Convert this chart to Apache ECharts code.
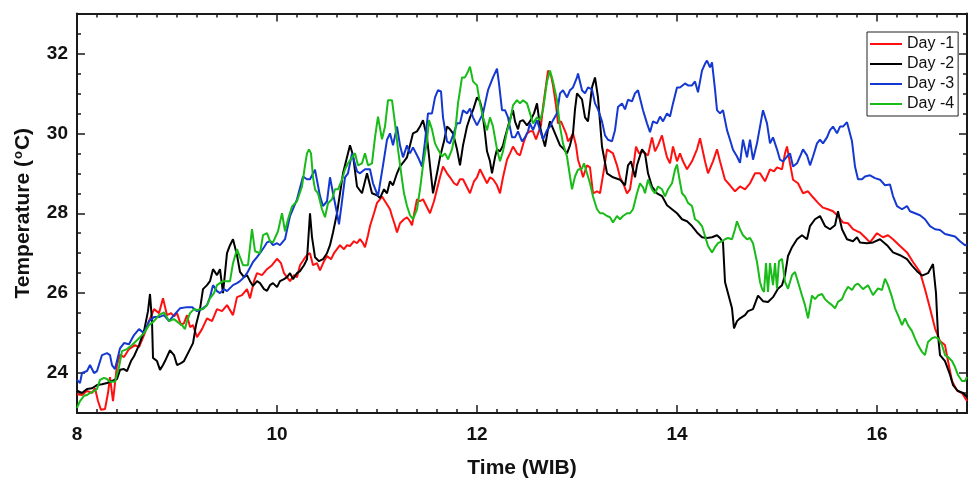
<!DOCTYPE html>
<html>
<head>
<meta charset="utf-8">
<script src="https://cdn.jsdelivr.net/npm/echarts@6/dist/echarts.min.js"></script>
<style>
  html, body { margin: 0; padding: 0; background: #fff; }
  #chart { width: 968px; height: 484px; }
</style>
</head>
<body>
<div id="chart"></div>
<script>
// Air temperature over the day, four days before the event (time in WIB, temperature in °C)
const seriesNames = ['Day -1', 'Day -2', 'Day -3', 'Day -4'];
const seriesColors = ['#ff1010', '#000000', '#1438d0', '#18bb18'];

const xMajorTicks = [8, 10, 12, 14, 16];
const yMajorTicks = [24, 26, 28, 30, 32];

const day1 = [
  [8.00,23.47],[8.05,23.45],[8.10,23.55],[8.15,23.5],[8.18,23.62],[8.21,23.3],[8.24,23.08],[8.28,23.1],[8.31,23.5],[8.33,23.9],[8.36,23.3],[8.40,24.2],[8.43,24.46],[8.47,24.4],[8.52,24.6],[8.58,24.7],[8.62,24.65],[8.67,24.95],[8.72,25.3],[8.77,25.6],[8.82,25.5],[8.86,25.87],[8.90,25.45],[8.94,25.5],[8.97,25.42],[9.00,25.5],[9.04,25.2],[9.07,25.25],[9.10,25.45],[9.13,25.15],[9.16,25.2],[9.20,24.9],[9.25,25.1],[9.30,25.37],[9.35,25.3],[9.40,25.6],[9.45,25.55],[9.50,25.7],[9.56,25.45],[9.60,25.9],[9.65,25.95],[9.70,26.1],[9.73,25.87],[9.77,26.3],[9.80,26.5],[9.85,26.45],[9.90,26.6],[9.95,26.7],[10.00,26.86],[10.04,26.75],[10.07,26.5],[10.10,26.4],[10.13,26.3],[10.17,26.45],[10.20,26.4],[10.23,26.7],[10.27,26.85],[10.30,26.95],[10.33,27.0],[10.36,26.7],[10.40,26.75],[10.43,26.57],[10.47,26.8],[10.50,26.93],[10.54,26.85],[10.57,27.0],[10.60,27.1],[10.63,27.2],[10.67,27.1],[10.70,27.2],[10.73,27.18],[10.77,27.3],[10.80,27.25],[10.83,27.35],[10.86,27.25],[10.88,27.15],[10.91,27.45],[10.93,27.68],[10.97,28.0],[11.00,28.26],[11.03,28.35],[11.05,28.42],[11.08,28.3],[11.10,28.26],[11.13,28.1],[11.15,27.93],[11.18,27.7],[11.20,27.52],[11.23,27.75],[11.27,27.85],[11.30,27.9],[11.33,27.8],[11.35,27.7],[11.38,28.1],[11.40,28.35],[11.43,28.3],[11.46,28.35],[11.50,28.15],[11.53,28.0],[11.57,28.3],[11.60,28.6],[11.63,28.9],[11.66,29.17],[11.70,29.0],[11.73,28.9],[11.77,28.75],[11.80,28.7],[11.83,28.85],[11.86,28.85],[11.90,28.65],[11.93,28.5],[11.97,28.8],[12.00,28.9],[12.03,29.1],[12.06,28.95],[12.10,28.75],[12.13,28.9],[12.16,28.85],[12.20,28.7],[12.23,28.5],[12.26,28.9],[12.30,29.34],[12.33,29.5],[12.36,29.67],[12.40,29.5],[12.43,29.45],[12.47,29.8],[12.50,30.0],[12.53,30.05],[12.56,30.05],[12.59,29.85],[12.61,29.8],[12.64,30.2],[12.66,30.66],[12.69,31.2],[12.71,31.57],[12.74,31.45],[12.76,31.2],[12.79,30.7],[12.81,30.25],[12.84,30.3],[12.86,30.3],[12.89,30.0],[12.91,29.8],[12.94,29.9],[12.96,30.0],[12.99,29.7],[13.01,29.34],[13.04,29.1],[13.06,28.9],[13.10,29.2],[13.13,29.15],[13.16,28.5],[13.20,28.55],[13.23,28.5],[13.27,29.1],[13.30,29.6],[13.33,29.55],[13.36,29.5],[13.40,29.2],[13.43,28.9],[13.47,28.7],[13.50,28.5],[13.53,28.6],[13.56,29.1],[13.59,29.67],[13.62,29.5],[13.65,29.55],[13.68,29.5],[13.71,29.45],[13.75,29.9],[13.78,29.55],[13.81,29.7],[13.85,29.95],[13.88,29.6],[13.90,29.4],[13.93,29.25],[13.96,29.67],[14.00,29.3],[14.03,29.5],[14.06,29.3],[14.10,29.1],[14.15,29.3],[14.20,29.6],[14.23,29.88],[14.28,29.3],[14.31,29.0],[14.36,29.3],[14.40,29.6],[14.43,29.3],[14.48,28.84],[14.53,28.7],[14.58,28.55],[14.63,28.67],[14.68,28.6],[14.73,28.75],[14.78,29.0],[14.83,29.0],[14.88,28.8],[14.93,29.1],[14.97,29.05],[15.00,29.15],[15.05,29.1],[15.08,29.5],[15.10,29.67],[15.13,29.25],[15.16,28.84],[15.21,28.75],[15.26,28.5],[15.31,28.55],[15.36,28.4],[15.41,28.26],[15.46,28.14],[15.51,28.1],[15.56,28.05],[15.61,27.93],[15.66,27.77],[15.71,27.75],[15.76,27.6],[15.80,27.55],[15.83,27.52],[15.88,27.4],[15.93,27.27],[16.00,27.5],[16.06,27.4],[16.11,27.45],[16.16,27.35],[16.23,27.18],[16.30,27.02],[16.36,26.78],[16.43,26.53],[16.48,26.1],[16.53,25.62],[16.58,25.12],[16.63,24.8],[16.68,24.7],[16.71,24.3],[16.75,23.8],[16.80,23.56],[16.85,23.5],[16.90,23.3]
];

const day2 = [
  [8.00,23.56],[8.05,23.5],[8.10,23.6],[8.15,23.62],[8.20,23.7],[8.25,23.72],[8.30,23.75],[8.35,23.8],[8.40,23.85],[8.43,24.08],[8.47,24.1],[8.50,24.05],[8.54,24.3],[8.57,24.42],[8.62,24.7],[8.67,25.05],[8.71,25.55],[8.73,25.98],[8.75,25.3],[8.76,24.38],[8.80,24.3],[8.83,24.08],[8.86,24.2],[8.88,24.3],[8.93,24.57],[8.97,24.45],[9.00,24.2],[9.04,24.25],[9.07,24.3],[9.12,24.55],[9.16,24.75],[9.19,25.2],[9.23,25.6],[9.26,26.1],[9.30,26.2],[9.33,26.3],[9.36,26.6],[9.40,26.45],[9.43,26.6],[9.46,26.0],[9.50,27.0],[9.53,27.2],[9.56,27.35],[9.60,26.95],[9.63,26.53],[9.67,26.4],[9.70,26.45],[9.73,26.3],[9.76,26.18],[9.80,26.3],[9.83,26.25],[9.87,26.1],[9.90,26.06],[9.93,26.2],[9.96,26.25],[10.00,26.15],[10.03,26.3],[10.07,26.35],[10.10,26.4],[10.13,26.5],[10.16,26.35],[10.20,26.5],[10.23,26.55],[10.27,26.7],[10.30,26.85],[10.33,28.0],[10.35,27.4],[10.38,26.9],[10.42,26.8],[10.46,26.85],[10.50,27.0],[10.53,27.2],[10.56,27.52],[10.60,28.0],[10.63,28.5],[10.66,29.0],[10.70,29.4],[10.73,29.7],[10.76,29.45],[10.80,28.67],[10.85,28.5],[10.90,29.0],[10.95,28.5],[11.00,28.45],[11.03,28.38],[11.07,28.6],[11.10,28.5],[11.13,28.8],[11.16,28.7],[11.20,29.0],[11.23,29.17],[11.27,29.3],[11.30,29.4],[11.33,29.7],[11.36,30.0],[11.40,30.05],[11.43,30.17],[11.46,30.33],[11.50,29.9],[11.53,29.2],[11.56,28.5],[11.60,29.0],[11.63,29.4],[11.67,29.8],[11.70,30.17],[11.73,30.1],[11.76,30.0],[11.80,29.6],[11.83,29.2],[11.86,29.7],[11.90,30.17],[11.93,30.4],[11.96,30.58],[12.00,30.9],[12.03,30.8],[12.05,30.6],[12.08,30.0],[12.10,29.55],[12.13,29.3],[12.15,29.0],[12.18,29.4],[12.20,29.6],[12.23,29.55],[12.26,29.7],[12.28,29.9],[12.31,30.17],[12.33,30.35],[12.36,30.58],[12.38,30.3],[12.41,30.1],[12.43,30.3],[12.46,30.33],[12.50,30.2],[12.53,30.3],[12.57,30.5],[12.60,30.75],[12.63,30.17],[12.66,29.85],[12.68,29.67],[12.71,30.1],[12.73,30.3],[12.78,30.0],[12.83,29.7],[12.87,29.6],[12.90,29.5],[12.93,29.7],[12.96,30.0],[12.98,30.6],[13.00,31.0],[13.05,30.85],[13.08,30.4],[13.11,30.3],[13.15,31.15],[13.18,31.4],[13.21,30.9],[13.25,29.67],[13.30,29.0],[13.36,28.9],[13.43,28.84],[13.48,28.7],[13.51,29.2],[13.54,29.3],[13.56,29.1],[13.58,28.9],[13.60,29.2],[13.65,29.6],[13.68,29.5],[13.71,29.0],[13.75,28.67],[13.80,28.5],[13.85,28.43],[13.90,28.2],[13.95,28.1],[14.00,28.0],[14.05,27.85],[14.10,27.8],[14.15,27.68],[14.20,27.52],[14.25,27.4],[14.30,27.38],[14.35,27.4],[14.40,27.45],[14.43,27.38],[14.46,27.27],[14.48,26.28],[14.51,26.0],[14.55,25.62],[14.57,25.12],[14.60,25.3],[14.63,25.37],[14.68,25.45],[14.71,25.55],[14.76,25.6],[14.81,25.94],[14.86,25.8],[14.91,25.78],[14.96,25.9],[15.01,26.11],[15.05,26.2],[15.08,26.45],[15.11,26.93],[15.15,27.15],[15.20,27.35],[15.25,27.45],[15.30,27.35],[15.33,27.68],[15.38,27.85],[15.43,27.93],[15.48,27.68],[15.53,27.6],[15.58,27.7],[15.61,28.05],[15.65,27.6],[15.70,27.35],[15.76,27.3],[15.80,27.4],[15.83,27.27],[15.90,27.25],[15.96,27.27],[16.03,27.35],[16.10,27.2],[16.16,27.02],[16.23,26.95],[16.30,26.85],[16.35,26.69],[16.40,26.55],[16.45,26.44],[16.51,26.5],[16.56,26.73],[16.59,26.0],[16.61,24.95],[16.63,24.45],[16.68,24.3],[16.73,23.96],[16.76,23.7],[16.81,23.55],[16.86,23.5],[16.90,23.4]
];

const day3 = [
  [8.00,23.83],[8.03,23.75],[8.05,24.0],[8.10,24.05],[8.13,24.2],[8.17,24.0],[8.20,24.05],[8.25,24.45],[8.30,24.5],[8.33,24.45],[8.35,24.2],[8.38,24.1],[8.43,24.62],[8.47,24.75],[8.52,24.72],[8.57,24.95],[8.62,25.1],[8.67,25.0],[8.72,25.3],[8.77,25.4],[8.82,25.4],[8.87,25.45],[8.92,25.3],[8.97,25.45],[9.03,25.62],[9.10,25.65],[9.15,25.65],[9.20,25.55],[9.25,25.6],[9.30,25.7],[9.33,25.9],[9.36,26.2],[9.40,26.05],[9.43,26.0],[9.47,26.1],[9.50,26.05],[9.56,26.2],[9.60,26.25],[9.63,26.3],[9.67,26.4],[9.70,26.5],[9.76,26.78],[9.80,26.9],[9.83,27.0],[9.87,27.15],[9.90,27.27],[9.93,27.3],[9.96,27.2],[10.00,27.25],[10.03,27.2],[10.08,27.35],[10.13,27.93],[10.20,28.35],[10.26,28.92],[10.30,28.85],[10.33,28.85],[10.38,29.09],[10.43,28.43],[10.46,28.18],[10.50,28.3],[10.53,28.9],[10.56,28.5],[10.60,28.0],[10.62,27.72],[10.65,28.3],[10.68,28.9],[10.71,29.0],[10.75,29.5],[10.80,29.05],[10.83,29.0],[10.88,29.1],[10.93,29.1],[10.96,28.75],[11.01,28.43],[11.06,29.2],[11.10,29.84],[11.13,30.0],[11.16,29.7],[11.20,30.17],[11.23,29.7],[11.26,29.4],[11.30,29.7],[11.33,29.5],[11.36,29.65],[11.40,29.45],[11.42,29.35],[11.45,29.17],[11.48,29.8],[11.51,30.5],[11.55,30.5],[11.58,30.9],[11.61,31.08],[11.64,31.05],[11.66,30.4],[11.70,29.8],[11.73,29.75],[11.76,29.95],[11.80,30.25],[11.83,30.25],[11.86,30.58],[11.90,30.5],[11.93,30.62],[11.96,30.4],[12.00,30.2],[12.03,30.35],[12.06,30.5],[12.11,31.08],[12.16,31.4],[12.20,31.62],[12.22,31.25],[12.25,30.58],[12.28,30.58],[12.31,30.4],[12.35,29.9],[12.38,29.9],[12.41,30.05],[12.45,29.8],[12.48,29.9],[12.51,30.05],[12.53,30.25],[12.56,30.08],[12.60,30.33],[12.63,30.08],[12.66,29.85],[12.70,30.08],[12.73,30.17],[12.76,30.33],[12.80,30.5],[12.83,31.0],[12.86,31.08],[12.90,30.9],[12.93,31.08],[12.96,31.15],[13.00,31.4],[13.01,31.5],[13.05,31.08],[13.08,31.0],[13.11,31.15],[13.15,31.1],[13.18,30.75],[13.21,30.6],[13.25,30.3],[13.28,29.95],[13.31,29.84],[13.35,29.8],[13.38,30.08],[13.41,30.66],[13.45,30.75],[13.48,30.6],[13.51,30.84],[13.55,30.8],[13.58,31.0],[13.61,31.08],[13.63,31.08],[13.66,30.58],[13.70,30.25],[13.73,30.03],[13.76,30.3],[13.80,30.25],[13.83,30.42],[13.86,30.3],[13.90,30.5],[13.93,30.42],[13.96,30.75],[14.00,31.15],[14.03,31.15],[14.08,31.25],[14.11,31.2],[14.15,31.2],[14.18,31.3],[14.21,31.03],[14.25,31.57],[14.28,31.74],[14.30,31.82],[14.33,31.65],[14.35,31.78],[14.38,31.1],[14.40,30.58],[14.43,30.5],[14.46,30.58],[14.50,30.08],[14.53,29.84],[14.56,29.59],[14.60,29.42],[14.63,29.26],[14.66,29.84],[14.70,29.4],[14.73,29.84],[14.76,29.34],[14.80,29.75],[14.83,30.17],[14.86,30.58],[14.90,30.25],[14.93,29.75],[14.96,29.9],[15.00,29.6],[15.03,29.34],[15.06,29.3],[15.10,29.42],[15.13,29.5],[15.16,29.17],[15.20,29.25],[15.23,29.42],[15.26,29.6],[15.30,29.45],[15.33,29.2],[15.36,29.42],[15.40,29.75],[15.43,29.84],[15.46,29.75],[15.50,29.9],[15.53,30.08],[15.56,30.17],[15.60,30.0],[15.63,30.17],[15.66,30.17],[15.70,30.28],[15.72,30.3],[15.75,29.8],[15.78,29.17],[15.81,28.85],[15.85,28.85],[15.88,28.92],[15.93,28.95],[15.98,28.88],[16.03,28.84],[16.08,28.7],[16.13,28.72],[16.16,28.43],[16.20,28.18],[16.25,28.1],[16.30,28.18],[16.33,28.05],[16.38,28.0],[16.43,27.95],[16.48,27.85],[16.53,27.68],[16.58,27.6],[16.63,27.58],[16.68,27.48],[16.73,27.45],[16.78,27.42],[16.83,27.3],[16.88,27.2],[16.90,27.22]
];

const day4 = [
  [8.00,23.13],[8.03,23.3],[8.07,23.43],[8.10,23.45],[8.13,23.5],[8.17,23.55],[8.20,23.6],[8.23,23.83],[8.27,23.88],[8.30,23.85],[8.33,23.78],[8.38,23.78],[8.42,24.15],[8.45,24.55],[8.50,24.6],[8.55,24.7],[8.60,24.82],[8.63,24.9],[8.67,25.0],[8.72,25.2],[8.77,25.3],[8.82,25.45],[8.87,25.52],[8.92,25.3],[8.97,25.35],[9.02,25.25],[9.05,25.2],[9.08,25.1],[9.10,25.3],[9.13,25.5],[9.17,25.6],[9.20,25.58],[9.23,25.6],[9.26,25.6],[9.30,25.7],[9.33,25.87],[9.37,26.0],[9.40,26.2],[9.43,26.25],[9.46,26.3],[9.50,26.3],[9.53,26.3],[9.56,26.75],[9.60,27.1],[9.63,26.9],[9.66,26.7],[9.71,26.7],[9.75,27.6],[9.78,27.05],[9.83,27.0],[9.86,27.45],[9.90,27.5],[9.93,27.3],[9.96,27.27],[10.01,27.55],[10.05,28.0],[10.08,27.55],[10.11,27.85],[10.15,28.17],[10.20,28.3],[10.25,28.67],[10.28,29.2],[10.30,29.5],[10.32,29.6],[10.34,29.5],[10.36,28.9],[10.38,28.6],[10.41,28.5],[10.45,28.1],[10.48,27.9],[10.51,28.25],[10.55,28.35],[10.58,28.6],[10.61,28.6],[10.65,28.84],[10.68,29.1],[10.71,29.25],[10.75,29.4],[10.78,29.5],[10.81,29.2],[10.85,29.25],[10.88,29.5],[10.91,29.2],[10.95,29.25],[10.98,29.9],[11.01,30.42],[11.05,29.85],[11.08,30.17],[11.11,30.83],[11.15,30.83],[11.18,30.25],[11.21,29.6],[11.25,28.85],[11.27,28.5],[11.30,28.18],[11.33,27.95],[11.36,27.85],[11.40,28.1],[11.43,28.6],[11.46,29.2],[11.50,29.8],[11.52,30.33],[11.55,30.1],[11.58,29.75],[11.61,29.6],[11.65,29.42],[11.68,29.5],[11.71,29.35],[11.75,29.6],[11.78,30.0],[11.81,30.75],[11.85,31.4],[11.88,31.4],[11.91,31.55],[11.93,31.67],[11.96,31.3],[12.00,31.2],[12.03,30.75],[12.06,30.4],[12.10,30.08],[12.13,30.4],[12.16,30.17],[12.20,29.6],[12.23,29.3],[12.26,29.55],[12.30,30.05],[12.33,30.3],[12.36,30.7],[12.40,30.83],[12.43,30.75],[12.46,30.83],[12.50,30.75],[12.53,30.5],[12.56,30.25],[12.60,30.4],[12.63,30.33],[12.66,30.58],[12.70,31.3],[12.73,31.57],[12.76,31.3],[12.80,30.83],[12.83,30.17],[12.86,29.75],[12.90,29.42],[12.93,28.92],[12.95,28.6],[12.98,28.92],[13.01,29.09],[13.05,29.12],[13.07,29.25],[13.10,29.0],[13.13,28.75],[13.16,28.42],[13.20,28.1],[13.23,28.0],[13.26,28.0],[13.30,27.93],[13.33,27.9],[13.36,27.77],[13.40,27.93],[13.43,27.85],[13.46,27.93],[13.50,28.0],[13.53,28.0],[13.56,28.1],[13.60,28.5],[13.63,28.75],[13.66,28.65],[13.68,28.5],[13.71,28.84],[13.75,28.6],[13.78,28.5],[13.81,28.67],[13.85,28.6],[13.88,28.42],[13.91,28.6],[13.95,28.75],[13.98,29.09],[14.00,29.22],[14.02,28.92],[14.05,28.5],[14.08,28.42],[14.11,28.26],[14.15,28.18],[14.18,27.85],[14.21,27.8],[14.25,27.68],[14.28,27.43],[14.31,27.18],[14.35,27.02],[14.38,27.15],[14.41,27.25],[14.45,27.3],[14.48,27.35],[14.51,27.38],[14.55,27.35],[14.58,27.6],[14.60,27.8],[14.63,27.6],[14.66,27.45],[14.70,27.35],[14.73,27.38],[14.76,27.25],[14.80,26.78],[14.83,26.28],[14.85,26.11],[14.87,26.03],[14.89,26.75],[14.91,26.03],[14.93,26.75],[14.96,26.2],[14.98,26.75],[15.00,26.11],[15.02,26.8],[15.05,26.86],[15.08,26.28],[15.11,26.11],[15.15,26.45],[15.18,26.53],[15.21,26.28],[15.25,25.94],[15.28,25.7],[15.31,25.37],[15.35,25.94],[15.38,25.85],[15.41,25.94],[15.45,25.98],[15.48,25.85],[15.51,25.78],[15.55,25.7],[15.58,25.62],[15.61,25.78],[15.65,25.85],[15.68,26.03],[15.71,26.16],[15.75,26.08],[15.78,26.2],[15.81,26.24],[15.86,26.1],[15.91,26.2],[15.96,25.95],[16.01,26.12],[16.05,26.08],[16.08,26.36],[16.11,26.2],[16.15,25.9],[16.18,25.62],[16.21,25.45],[16.25,25.2],[16.28,25.37],[16.31,25.2],[16.35,25.05],[16.38,24.87],[16.41,24.7],[16.45,24.53],[16.48,24.45],[16.51,24.78],[16.55,24.87],[16.58,24.9],[16.61,24.87],[16.65,24.7],[16.68,24.45],[16.71,24.4],[16.75,24.3],[16.78,24.15],[16.81,23.95],[16.85,23.8],[16.88,23.8],[16.90,23.9]
];

const X_MIN = 8, X_MAX = 16.9, Y_MIN = 23, Y_MAX = 33;
const FONT = '"Liberation Sans", Arial, sans-serif';

// minor tick positions: every 0.2 h on time, every 0.5 °C on temperature
function minorTicks(min, max, step, majors) {
  const out = [];
  for (let i = 0; min + i * step <= max + 1e-9; i++) {
    const v = Math.round((min + i * step) * 100) / 100;
    if (!majors.some(m => Math.abs(m - v) < 1e-6)) out.push(v);
  }
  return out;
}
const xMinor = minorTicks(X_MIN, X_MAX, 0.2, xMajorTicks);
const yMinor = minorTicks(Y_MIN, Y_MAX, 0.5, yMajorTicks);

const frameColor = '#1a1a1a';

function xAxisDef(position, ticks, len, withLine, withLabels) {
  return {
    type: 'value', position, min: X_MIN, max: X_MAX,
    axisLine: { show: withLine, onZero: false, lineStyle: { color: frameColor, width: 2 } },
    axisTick: { show: true, inside: true, length: len, customValues: ticks, lineStyle: { color: frameColor, width: 1.5 } },
    axisLabel: withLabels ? {
      show: true, customValues: ticks, margin: 12,
      fontFamily: FONT, fontWeight: 'bold', fontSize: 19, color: '#111'
    } : { show: false },
    splitLine: { show: false }
  };
}
function yAxisDef(position, ticks, len, withLine, withLabels) {
  return {
    type: 'value', position, min: Y_MIN, max: Y_MAX,
    axisLine: { show: withLine, onZero: false, lineStyle: { color: frameColor, width: 2 } },
    axisTick: { show: true, inside: true, length: len, customValues: ticks, lineStyle: { color: frameColor, width: 1.5 } },
    axisLabel: withLabels ? {
      show: true, customValues: ticks, margin: 9,
      fontFamily: FONT, fontWeight: 'bold', fontSize: 19, color: '#111'
    } : { show: false },
    splitLine: { show: false }
  };
}

const nameFont = { fontFamily: FONT, fontWeight: 'bold', fontSize: 21, color: '#111' };

const xAxes = [
  Object.assign(xAxisDef('bottom', xMajorTicks, 8, true, true), {
    name: 'Time (WIB)', nameLocation: 'middle', nameGap: 45,
    nameTextStyle: nameFont
  }),
  xAxisDef('bottom', xMinor, 4, false, false),
  xAxisDef('top', xMajorTicks, 8, true, false),
  xAxisDef('top', xMinor, 4, false, false)
];
const yAxes = [
  Object.assign(yAxisDef('left', yMajorTicks, 8, true, true), {
    name: '{b|Temperature (}{sup|o}{b|C)}', nameLocation: 'middle', nameGap: 43, nameRotate: 90,
    nameTextStyle: Object.assign({}, nameFont, {
      rich: {
        b: Object.assign({}, nameFont, { lineHeight: 22, verticalAlign: 'bottom' }),
        sup: { fontFamily: FONT, fontWeight: 'bold', fontSize: 13, color: '#111', lineHeight: 13,
               verticalAlign: 'bottom', padding: [0, 1, 9, 1] }
      }
    })
  }),
  yAxisDef('left', yMinor, 4, false, false),
  yAxisDef('right', yMajorTicks, 8, true, false),
  yAxisDef('right', yMinor, 4, false, false)
];

const dataSets = [day1, day2, day3, day4];

const chart = echarts.init(document.getElementById('chart'), null, { renderer: 'canvas' });
chart.setOption({
  animation: false,
  backgroundColor: '#ffffff',
  grid: { left: 77, right: 1, top: 13.5, bottom: 68.5, containLabel: false },
  xAxis: xAxes,
  yAxis: yAxes,
  legend: {
    orient: 'vertical', left: 867, top: 32,
    padding: [4, 4, 4, 3],
    icon: 'rect',
    itemWidth: 32, itemHeight: 2, itemGap: 4,
    borderColor: '#222', borderWidth: 1, backgroundColor: '#fff',
    textStyle: { fontFamily: FONT, fontSize: 16, color: '#111', lineHeight: 16 },
    data: seriesNames
  },
  series: seriesNames.map((name, i) => ({
    name, type: 'line', xAxisIndex: 0, yAxisIndex: 0,
    data: dataSets[i], symbol: 'none', smooth: false,
    lineStyle: { color: seriesColors[i], width: 2 },
    itemStyle: { color: seriesColors[i] },
    clip: true
  }))
});
</script>
</body>
</html>
